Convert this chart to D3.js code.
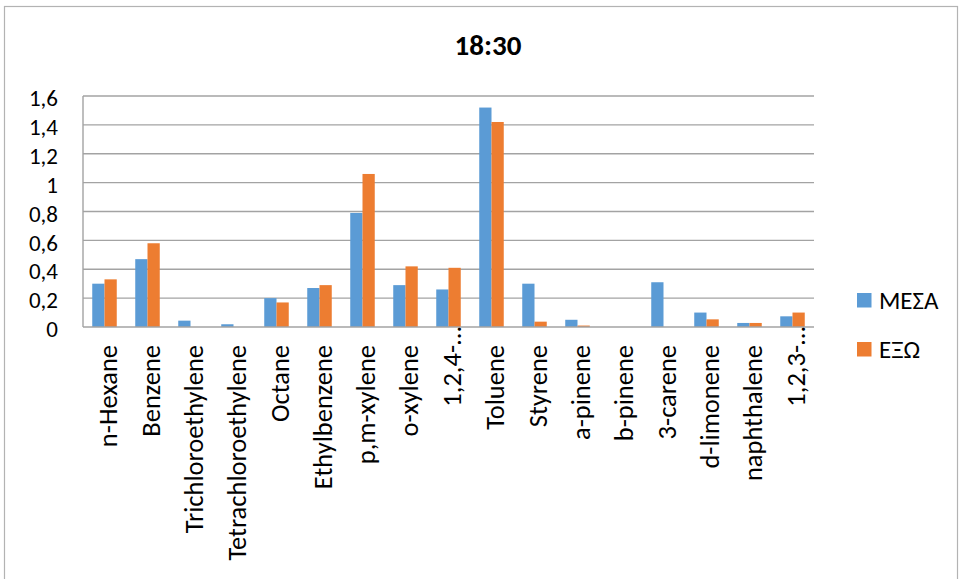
<!DOCTYPE html>
<html>
<head>
<meta charset="utf-8">
<script src="https://cdn.jsdelivr.net/npm/d3@7"></script>
<style>
  html, body { margin: 0; padding: 0; background: #fff; }
  svg { display: block; }
  text { font-family: Carlito, Calibri, Lato, "Noto Sans", sans-serif; fill: #000; }
</style>
</head>
<body>
<svg id="chart" width="959" height="579"></svg>
<script>
// Concentrations at 18:30, indoor (ΜΕΣΑ) vs outdoor (ΕΞΩ)
const title = "18:30";
const categories = ["n-Hexane", "Benzene", "Trichloroethylene", "Tetrachloroethylene", "Octane",
  "Ethylbenzene", "p,m-xylene", "o-xylene", "1,2,4-…", "Toluene", "Styrene", "a-pinene",
  "b-pinene", "3-carene", "d-limonene", "naphthalene", "1,2,3-…"];
const seriesNames = ["ΜΕΣΑ", "ΕΞΩ"];
const mesa = [0.30, 0.47, 0.044, 0.019, 0.20, 0.27, 0.79, 0.29, 0.26, 1.52, 0.30, 0.05, 0, 0.31, 0.10, 0.028, 0.074];
const exo  = [0.33, 0.58, 0, 0, 0.17, 0.29, 1.06, 0.42, 0.41, 1.42, 0.037, 0.01, 0, 0, 0.053, 0.028, 0.10];
const yTicks = [0, 0.2, 0.4, 0.6, 0.8, 1, 1.2, 1.4, 1.6];
const colors = ["#5B9BD5", "#ED7D31"];

const svg = d3.select("#chart");
const plot = { left: 83, right: 814, top: 96, bottom: 327 };

// outer chart frame
svg.append("rect")
  .attr("x", 4.5).attr("y", 6.5).attr("width", 953).attr("height", 590)
  .attr("fill", "none").attr("stroke", "#b3b3b3").attr("stroke-width", 1.2);

svg.append("text")
  .attr("x", 488).attr("y", 55)
  .attr("text-anchor", "middle")
  .attr("font-size", 29).attr("font-weight", "bold")
  .text(title);

const x = d3.scaleBand().domain(categories)
  .range([plot.left, plot.right]).paddingInner(0.43).paddingOuter(0.215);
const xs = d3.scaleBand().domain(seriesNames).range([0, x.bandwidth()]);
const y = d3.scaleLinear().domain([0, 1.6]).range([plot.bottom, plot.top]);

const locale = d3.formatLocale({ decimal: ",", thousands: ".", grouping: [3], currency: ["", "€"] });
const fmt = locale.format("~g");

// gridlines
svg.append("g").selectAll("line").data(yTicks.filter(d => d > 0)).join("line")
  .attr("x1", plot.left).attr("x2", plot.right)
  .attr("y1", d => y(d)).attr("y2", d => y(d))
  .attr("stroke", "#a3a3a3").attr("stroke-width", 1.4);

// value axis labels
const yAxis = d3.axisLeft(y).tickValues(yTicks).tickFormat(fmt).tickSize(0).tickPadding(0);
const yg = svg.append("g").attr("transform", `translate(58,0)`).call(yAxis);
yg.select(".domain").remove();
yg.selectAll("text").attr("font-size", 23).attr("font-family", null).attr("dy", "0.42em");

// bars
const data = [mesa, exo];
const groups = svg.append("g").selectAll("g").data(seriesNames).join("g")
  .attr("fill", (d, i) => colors[i]);
groups.selectAll("rect")
  .data((s, si) => categories.map((c, ci) => ({ c, s, v: data[si][ci] })))
  .join("rect")
  .attr("x", d => x(d.c) + xs(d.s))
  .attr("width", xs.bandwidth())
  .attr("y", d => y(d.v))
  .attr("height", d => y(0) - y(d.v));

// axis lines
svg.append("line")
  .attr("x1", plot.left).attr("x2", plot.left).attr("y1", plot.top).attr("y2", plot.bottom)
  .attr("stroke", "#a3a3a3").attr("stroke-width", 1.4);
svg.append("line")
  .attr("x1", plot.left).attr("x2", plot.right).attr("y1", plot.bottom).attr("y2", plot.bottom)
  .attr("stroke", "#a3a3a3").attr("stroke-width", 1.4);

// category labels, rotated; truncated names let the ellipsis run past the axis gap
const catG = svg.append("g").selectAll("g").data(categories).join("g")
  .attr("transform", d => `translate(${x(d) + x.bandwidth() / 2 + 12},345) rotate(-90)`);
catG.append("text")
  .attr("text-anchor", "end")
  .attr("font-size", 26.5)
  .text(d => d.replace("…", ""));
catG.filter(d => d.endsWith("…")).append("text")
  .attr("text-anchor", "start")
  .attr("font-size", 26.5)
  .text("…");

// legend
const leg = svg.append("g").selectAll("g").data(seriesNames).join("g")
  .attr("transform", (d, i) => `translate(857,${293 + i * 49})`);
leg.append("rect").attr("width", 14.5).attr("height", 14.5).attr("fill", (d, i) => colors[i]);
leg.append("text").attr("x", 22).attr("y", 15.5).attr("font-size", 25).text(d => d);
</script>
</body>
</html>
